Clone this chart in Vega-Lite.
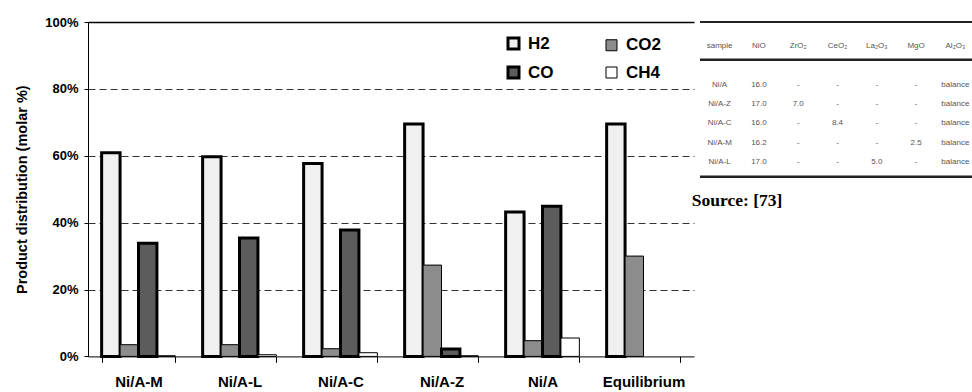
{
  "$schema": "https://vega.github.io/schema/vega-lite/v6.json",
  "padding": {"left": 14, "top": 16, "right": 0, "bottom": 0},
  "background": "white",
  "config": {"font": "Liberation Sans", "view": {"stroke": null}},
  "bounds": "flush",
  "spacing": 21,
  "datasets": {
    "bars": [
      {"sample": "Ni/A-M", "gas": "H2", "value": 60.9},
      {"sample": "Ni/A-M", "gas": "CO2", "value": 3.5},
      {"sample": "Ni/A-M", "gas": "CO", "value": 33.8},
      {"sample": "Ni/A-M", "gas": "CH4", "value": 0.2},
      {"sample": "Ni/A-L", "gas": "H2", "value": 59.7},
      {"sample": "Ni/A-L", "gas": "CO2", "value": 3.5},
      {"sample": "Ni/A-L", "gas": "CO", "value": 35.4},
      {"sample": "Ni/A-L", "gas": "CH4", "value": 0.5},
      {"sample": "Ni/A-C", "gas": "H2", "value": 57.7},
      {"sample": "Ni/A-C", "gas": "CO2", "value": 2.3},
      {"sample": "Ni/A-C", "gas": "CO", "value": 37.8},
      {"sample": "Ni/A-C", "gas": "CH4", "value": 1.1},
      {"sample": "Ni/A-Z", "gas": "H2", "value": 69.5},
      {"sample": "Ni/A-Z", "gas": "CO2", "value": 27.3},
      {"sample": "Ni/A-Z", "gas": "CO", "value": 2.2},
      {"sample": "Ni/A-Z", "gas": "CH4", "value": 0.2},
      {"sample": "Ni/A", "gas": "H2", "value": 43.2},
      {"sample": "Ni/A", "gas": "CO2", "value": 4.7},
      {"sample": "Ni/A", "gas": "CO", "value": 44.9},
      {"sample": "Ni/A", "gas": "CH4", "value": 5.5},
      {"sample": "Equilibrium", "gas": "H2", "value": 69.5},
      {"sample": "Equilibrium", "gas": "CO2", "value": 30.0}
    ],
    "table": [
      {"row": "header", "col": "sample", "text": "sample"},
      {"row": "header", "col": "NiO", "text": "NiO"},
      {"row": "header", "col": "ZrO2", "text": "ZrO₂"},
      {"row": "header", "col": "CeO2", "text": "CeO₂"},
      {"row": "header", "col": "La2O3", "text": "La₂O₃"},
      {"row": "header", "col": "MgO", "text": "MgO"},
      {"row": "header", "col": "Al2O3", "text": "Al₂O₃"},
      {"row": "Ni/A", "col": "sample", "text": "Ni/A"},
      {"row": "Ni/A", "col": "NiO", "text": "16.0"},
      {"row": "Ni/A", "col": "ZrO2", "text": "-"},
      {"row": "Ni/A", "col": "CeO2", "text": "-"},
      {"row": "Ni/A", "col": "La2O3", "text": "-"},
      {"row": "Ni/A", "col": "MgO", "text": "-"},
      {"row": "Ni/A", "col": "Al2O3", "text": "balance"},
      {"row": "Ni/A-Z", "col": "sample", "text": "Ni/A-Z"},
      {"row": "Ni/A-Z", "col": "NiO", "text": "17.0"},
      {"row": "Ni/A-Z", "col": "ZrO2", "text": "7.0"},
      {"row": "Ni/A-Z", "col": "CeO2", "text": "-"},
      {"row": "Ni/A-Z", "col": "La2O3", "text": "-"},
      {"row": "Ni/A-Z", "col": "MgO", "text": "-"},
      {"row": "Ni/A-Z", "col": "Al2O3", "text": "balance"},
      {"row": "Ni/A-C", "col": "sample", "text": "Ni/A-C"},
      {"row": "Ni/A-C", "col": "NiO", "text": "16.0"},
      {"row": "Ni/A-C", "col": "ZrO2", "text": "-"},
      {"row": "Ni/A-C", "col": "CeO2", "text": "8.4"},
      {"row": "Ni/A-C", "col": "La2O3", "text": "-"},
      {"row": "Ni/A-C", "col": "MgO", "text": "-"},
      {"row": "Ni/A-C", "col": "Al2O3", "text": "balance"},
      {"row": "Ni/A-M", "col": "sample", "text": "Ni/A-M"},
      {"row": "Ni/A-M", "col": "NiO", "text": "16.2"},
      {"row": "Ni/A-M", "col": "ZrO2", "text": "-"},
      {"row": "Ni/A-M", "col": "CeO2", "text": "-"},
      {"row": "Ni/A-M", "col": "La2O3", "text": "-"},
      {"row": "Ni/A-M", "col": "MgO", "text": "2.5"},
      {"row": "Ni/A-M", "col": "Al2O3", "text": "balance"},
      {"row": "Ni/A-L", "col": "sample", "text": "Ni/A-L"},
      {"row": "Ni/A-L", "col": "NiO", "text": "17.0"},
      {"row": "Ni/A-L", "col": "ZrO2", "text": "-"},
      {"row": "Ni/A-L", "col": "CeO2", "text": "-"},
      {"row": "Ni/A-L", "col": "La2O3", "text": "5.0"},
      {"row": "Ni/A-L", "col": "MgO", "text": "-"},
      {"row": "Ni/A-L", "col": "Al2O3", "text": "balance"}
    ]
  },
  "hconcat": [
    {
      "width": 591,
      "height": 334.4,
      "data": {"name": "bars"},
      "mark": {"type": "bar", "stroke": "#000"},
      "encoding": {
        "x": {
          "field": "sample", "type": "nominal",
          "sort": ["Ni/A-M", "Ni/A-L", "Ni/A-C", "Ni/A-Z", "Ni/A", "Equilibrium"],
          "scale": {"range": [0, 606], "paddingInner": 0.27, "paddingOuter": 0.135},
          "axis": {
            "title": null, "labelAngle": 0, "labelFontSize": 15, "labelFontWeight": "bold",
            "labelColor": "#000", "labelPadding": 12, "tickBand": "extent", "tickSize": 6,
            "tickColor": "#000", "domainColor": "#000", "grid": false
          }
        },
        "xOffset": {
          "field": "gas", "type": "nominal", "sort": ["H2", "CO2", "CO", "CH4"],
          "scale": {"paddingInner": 0, "paddingOuter": 0}
        },
        "y": {
          "field": "value", "type": "quantitative",
          "scale": {"domain": [0, 100], "nice": false},
          "axis": {
            "title": "Product distribution (molar %)", "titleFontSize": 14.5, "titleFontWeight": "bold",
            "titlePadding": 15, "titleColor": "#000",
            "values": [0, 20, 40, 60, 80, 100], "labelExpr": "datum.value + '%'",
            "labelFontSize": 13, "labelFontWeight": "bold", "labelColor": "#000", "labelPadding": 6,
            "tickSize": 4, "tickColor": "#000", "domainColor": "#000", "grid": true,
            "gridColor": {"condition": {"test": "datum.value === 100", "value": "#000"}, "value": "#333"},
            "gridDash": {"condition": {"test": "datum.value === 100", "value": []}, "value": [7, 4]},
            "gridOpacity": {"condition": {"test": "datum.value === 0", "value": 0}, "value": 1},
            "gridWidth": {"condition": {"test": "datum.value === 100", "value": 1.5}, "value": 1}
          }
        },
        "fill": {
          "field": "gas", "type": "nominal",
          "scale": {"domain": ["H2", "CO2", "CO", "CH4"], "range": ["#f0f0f0", "#8c8c8c", "#5c5c5c", "#ffffff"]},
          "legend": {
            "orient": "none", "direction": "horizontal", "legendX": 417, "legendY": 13, "columns": 2, "columnPadding": 49,
            "rowPadding": 6, "title": null, "symbolType": "square", "symbolSize": 121,
            "labelFontSize": 17, "labelFontWeight": "bold", "labelColor": "#000", "labelOffset": 6,
            "symbolStrokeColor": "#000",
            "encode": {
              "symbols": {
                "update": {
                  "strokeWidth": {"signal": "datum.value === 'H2' || datum.value === 'CO' ? 3 : 1"},
                  "fill": {"signal": "datum.value === 'CO' ? '#111111' : datum.value === 'CO2' ? '#8c8c8c' : datum.value === 'H2' ? '#f0f0f0' : '#ffffff'"},
                  "stroke": {"value": "#000"}
                }
              }
            }
          }
        },
        "strokeWidth": {"condition": {"test": "datum.gas === 'H2' || datum.gas === 'CO'", "value": 3}, "value": 1}
      }
    },
    {
      "width": 274,
      "height": 170,
      "title": {
        "text": "Source: [73]", "orient": "bottom", "anchor": "start", "offset": 0, "dx": -7,
        "font": "Liberation Serif", "fontSize": 17.5, "fontWeight": "bold", "color": "#000"
      },
      "layer": [
        {
          "data": {"name": "table"},
          "mark": {"type": "text", "fontSize": 8, "color": "#555"},
          "encoding": {
            "x": {
              "field": "col", "type": "nominal",
              "scale": {"domain": ["sample", "NiO", "ZrO2", "CeO2", "La2O3", "MgO", "Al2O3"], "range": [0, 275], "paddingInner": 0, "paddingOuter": 0},
              "axis": null
            },
            "y": {
              "field": "row", "type": "nominal",
              "scale": {"domain": ["top", "header", "sep", "Ni/A", "Ni/A-Z", "Ni/A-C", "Ni/A-M", "Ni/A-L", "bottom"], "range": [-4.95, 168.75], "paddingInner": 0, "paddingOuter": 0},
              "axis": null
            },
            "text": {"field": "text"}
          }
        },
        {
          "data": {"values": [{}]},
          "mark": {"type": "rule", "color": "#222", "strokeWidth": 2},
          "encoding": {"y": {"datum": "top", "type": "nominal", "bandPosition": 0.256}}
        },
        {
          "data": {"values": [{}]},
          "mark": {"type": "rule", "color": "#222", "strokeWidth": 2.5},
          "encoding": {"y": {"datum": "sep", "type": "nominal", "bandPosition": 0.21}}
        },
        {
          "data": {"values": [{}]},
          "mark": {"type": "rule", "color": "#222", "strokeWidth": 2.5},
          "encoding": {"y": {"datum": "bottom", "type": "nominal", "bandPosition": 0.27}}
        }
      ]
    }
  ]
}
